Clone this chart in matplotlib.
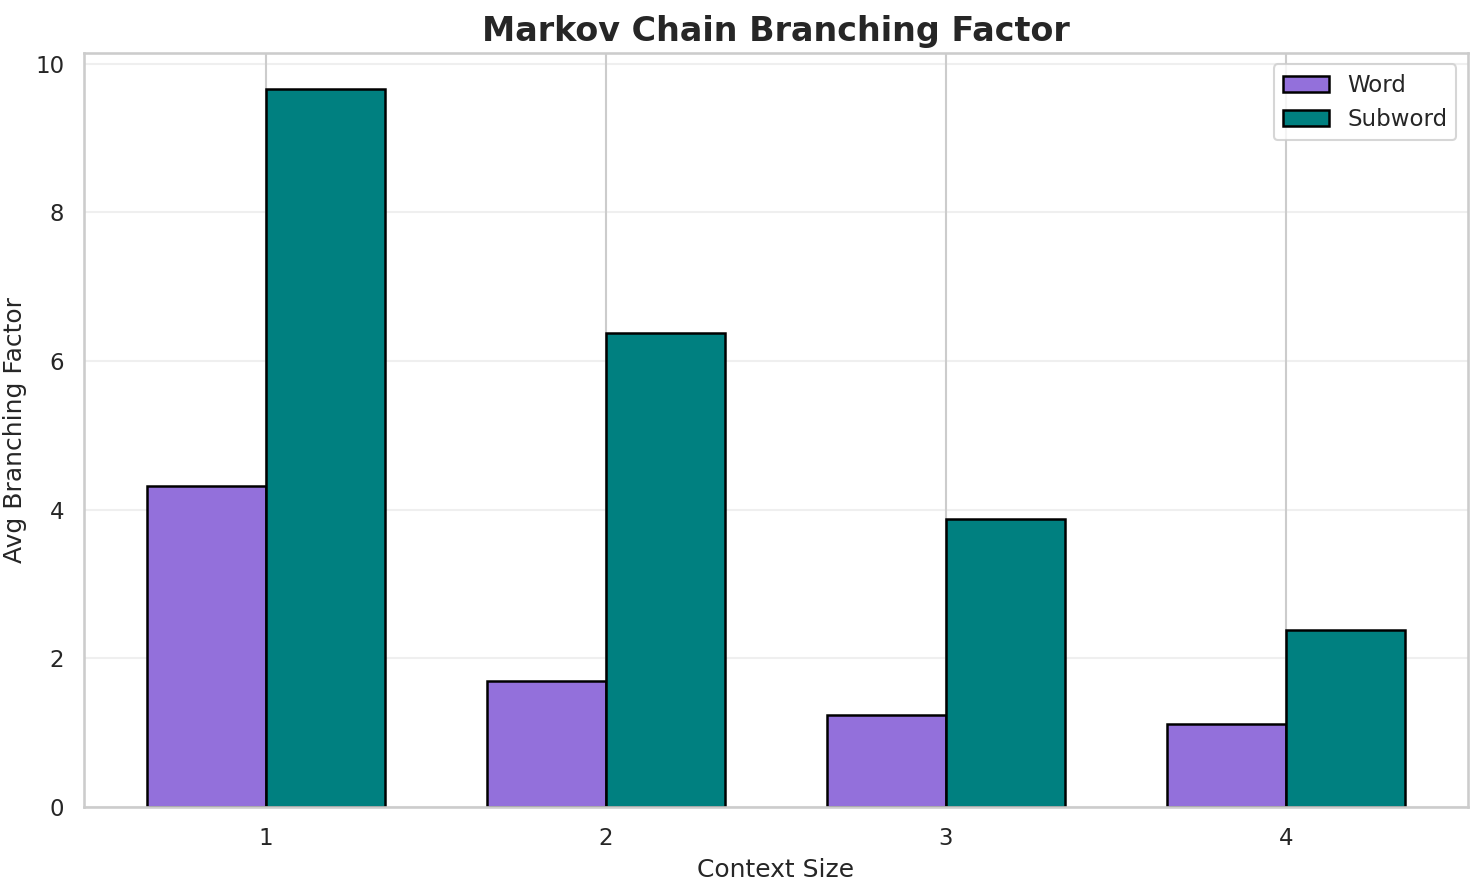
import matplotlib
matplotlib.use("Agg")
import matplotlib.pyplot as plt
import seaborn as sns
import numpy as np

sns.set_theme(style="whitegrid")

contexts = [1, 2, 3, 4]
word = [4.32, 1.70, 1.24, 1.11]
subword = [9.66, 6.37, 3.88, 2.38]

fig, ax = plt.subplots(figsize=(9.893, 5.9), dpi=150)
x = np.array(contexts)
w = 0.35
ax.bar(x - w/2, word, w, label="Word", color="mediumpurple", edgecolor="black", linewidth=1.2)
ax.bar(x + w/2, subword, w, label="Subword", color="teal", edgecolor="black", linewidth=1.2)
ax.set_xticks(x)
ax.set_xticklabels([str(c) for c in contexts])
ax.grid(axis="y", alpha=0.3)
ax.set_xlabel("Context Size")
ax.set_ylabel("Avg Branching Factor")
ax.set_title("Markov Chain Branching Factor", fontsize=16, fontweight="bold")
ax.legend(loc="upper right")
fig.subplots_adjust(left=84/1484, right=1468/1484, top=1-53/885, bottom=1-807/885)
fig.savefig("out.png")
